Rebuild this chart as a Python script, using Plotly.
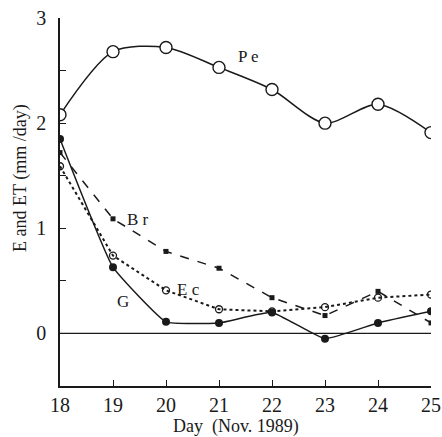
import plotly.graph_objects as go

days = [18, 19, 20, 21, 22, 23, 24, 25]
pe = [2.08, 2.68, 2.72, 2.53, 2.32, 2.00, 2.18, 1.91]
br = [1.72, 1.09, 0.78, 0.62, 0.34, 0.17, 0.40, 0.10]
ec = [1.59, 0.74, 0.41, 0.23, 0.21, 0.25, 0.34, 0.37]
g = [1.85, 0.63, 0.11, 0.10, 0.20, -0.05, 0.10, 0.21]

y_tickvals = [-0.5, 0, 0.5, 1, 1.5, 2, 2.5, 3]
y_ticktext = ["", "0", "", "1", "", "2", "", "3"]
x_tickvals = [18, 19, 20, 21, 22, 23, 24, 25]

labels = [("P e", 21.55, 2.63), ("B r", 19.47, 1.08), ("E c", 20.42, 0.42), ("G", 19.19, 0.30)]

ink = "#1a1a1a"
font = "Liberation Serif, Times New Roman, serif"

W, H = 442, 437
ML, MR, MT, MB = 60, 11, 18, 51
PW, PH = W - ML - MR, H - MT - MB

fig = go.Figure()
fig.add_trace(go.Scatter(x=days, y=[0] * len(days), mode="lines",
                         line=dict(color=ink, width=1.2), hoverinfo="skip"))
fig.add_trace(go.Scatter(x=days, y=br, mode="lines+markers",
                         line=dict(color=ink, width=1.5, dash="dash"),
                         marker=dict(symbol="square", size=5, color=ink)))
fig.add_trace(go.Scatter(x=days, y=ec, mode="lines+markers",
                         line=dict(color=ink, width=2, dash="dot"),
                         marker=dict(symbol="circle-open", size=7, color=ink, line=dict(width=1.3))))
fig.add_trace(go.Scatter(x=days, y=g, mode="lines+markers",
                         line=dict(color=ink, width=1.5, shape="spline", smoothing=0.35),
                         marker=dict(symbol="circle", size=8, color=ink)))
fig.add_trace(go.Scatter(x=days, y=pe, mode="lines+markers",
                         line=dict(color=ink, width=1.5, shape="spline", smoothing=0.8),
                         marker=dict(symbol="circle", size=12, color="white",
                                     line=dict(color=ink, width=1.4))))

for text, x, y in labels:
    fig.add_annotation(x=x, y=y, text=text, showarrow=False,
                       font=dict(family=font, size=17, color=ink))

# axis titles (positioned in paper coordinates from pixel targets)
fig.add_annotation(x=(20 - ML) / PW, y=(H - MB - 178) / PH, xref="paper", yref="paper",
                   text="E and ET (mm /day)", showarrow=False, textangle=-90,
                   xanchor="center", yanchor="middle",
                   font=dict(family=font, size=18, color=ink))
fig.add_annotation(x=(236 - ML) / PW, y=(H - MB - 426) / PH, xref="paper", yref="paper",
                   text="Day&nbsp;&nbsp;(Nov. 1989)", showarrow=False,
                   xanchor="center", yanchor="middle",
                   font=dict(family=font, size=18, color=ink))

fig.update_layout(
    width=W, height=H,
    margin=dict(l=ML, r=MR, t=MT, b=MB, autoexpand=False),
    paper_bgcolor="white", plot_bgcolor="white",
    showlegend=False,
    font=dict(family=font, color=ink),
)

fig.update_xaxes(range=[18, 25], tickvals=x_tickvals, automargin=False,
                 ticks="inside", ticklen=6, tickcolor=ink, tickwidth=1.2,
                 showline=True, linecolor=ink, linewidth=1.5,
                 showgrid=False, zeroline=False,
                 tickfont=dict(family=font, size=20, color=ink))
fig.update_yaxes(range=[-0.5, 3], tickvals=y_tickvals, ticktext=y_ticktext, automargin=False,
                 ticks="inside", ticklen=6, tickcolor=ink, tickwidth=1.2,
                 showline=True, linecolor=ink, linewidth=1.5,
                 showgrid=False, zeroline=False, ticklabelstandoff=8,
                 tickfont=dict(family=font, size=20, color=ink))

fig.write_html("out.html", config={"displayModeBar": False},
               post_script="document.body.style.margin='0';document.body.style.overflow='hidden';")
